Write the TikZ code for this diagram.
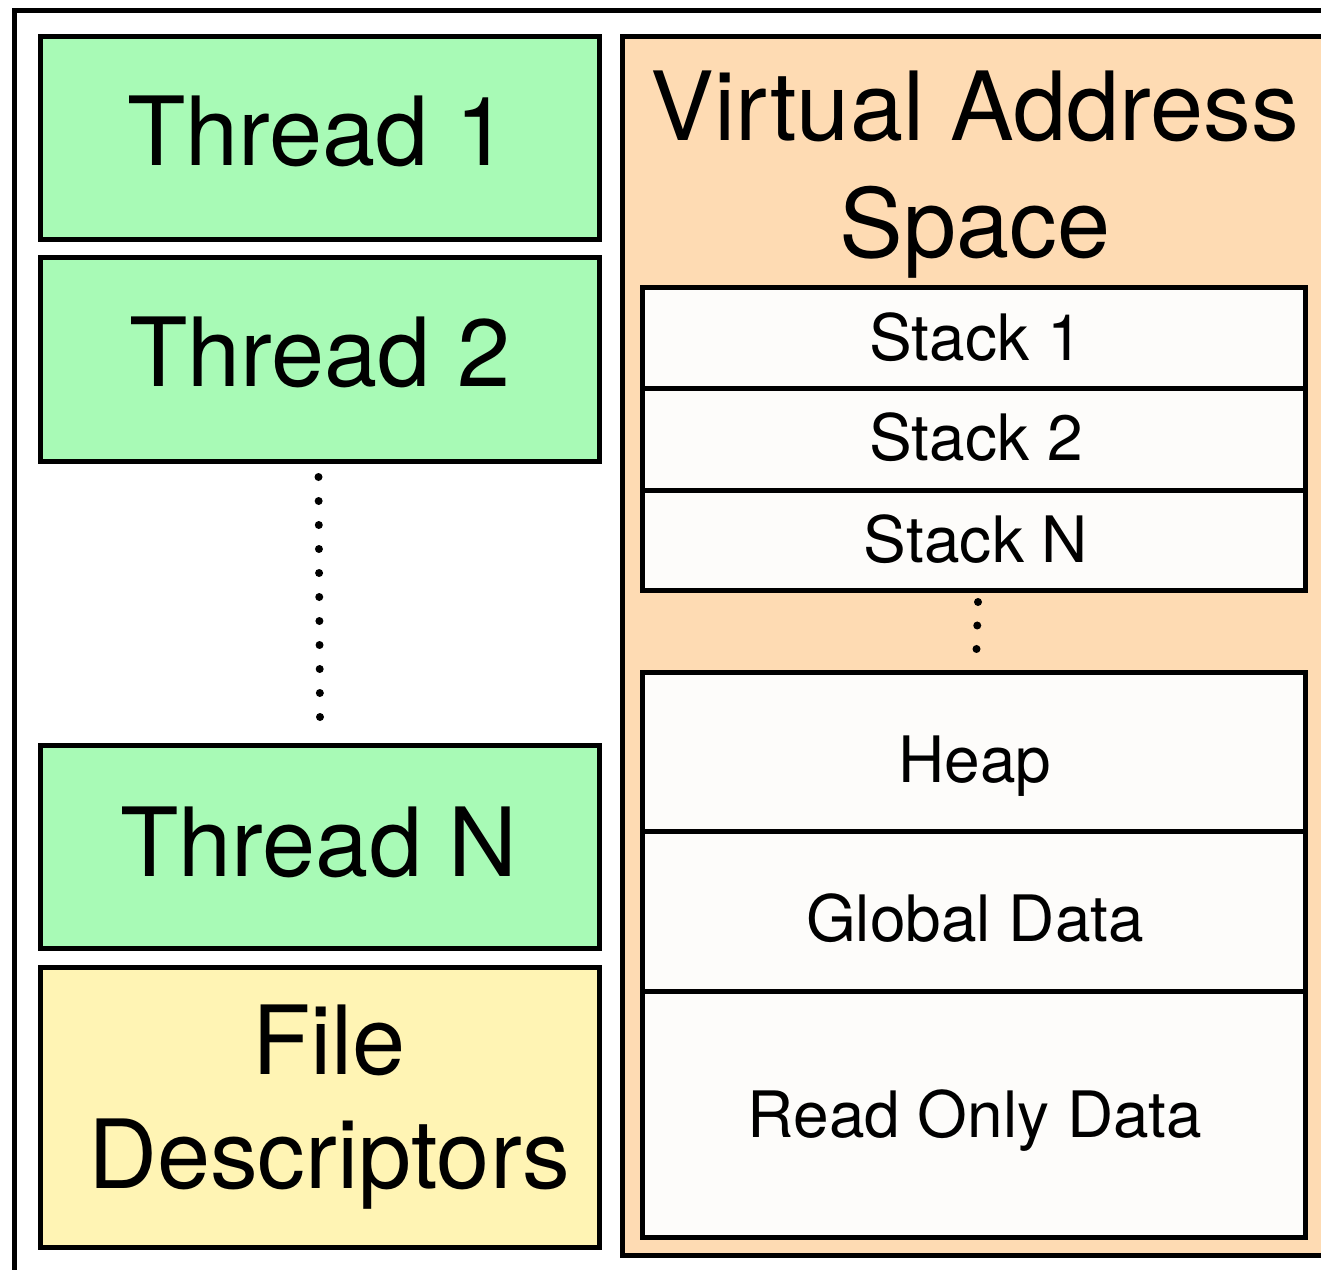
\documentclass[tikz,border=0pt]{standalone}
\usepackage{fontspec}
\setmainfont{TeX Gyre Heros}
\definecolor{threadgreen}{RGB}{168,250,182}
\definecolor{fileyellow}{RGB}{255,244,180}
\definecolor{vasorange}{RGB}{254,219,179}
\definecolor{segwhite}{RGB}{253,252,250}
\tikzset{
  panel/.style={draw=black, line width=5pt, inner sep=0pt, rectangle},
  threadbox/.style={panel, fill=threadgreen, minimum width=559pt},
  filebox/.style={panel, fill=fileyellow, minimum width=559pt},
  segbox/.style={panel, fill=segwhite, minimum width=663.5pt},
  bigtext/.style={anchor=base, inner sep=0pt, font=\fontsize{95.5}{117}\selectfont, align=center},
  segtext/.style={anchor=base, inner sep=0pt, font=\fontsize{64}{76}\selectfont},
  ellipsis/.style={line width=8pt, line cap=round, dash pattern=on 0pt off #1}
}
\begin{document}
\begin{tikzpicture}[x=1pt, y=-1pt]
\useasboundingbox (0,0) rectangle (1321,1269);
\fill[white] (0,0) rectangle (1321,1269);

% process frame (runs off the right and bottom edges)
\draw[line width=5pt] (14.5,10) rectangle (1400,1350);

% threads and file descriptors
\node[threadbox, minimum height=203pt] (thread1) at (320,137.5) {};
\node[threadbox, minimum height=203.5pt] (thread2) at (320,359.25) {};
\node[threadbox, minimum height=203pt] (threadN) at (320,847) {};
\node[filebox, minimum height=280pt] (files) at (320,1107.5) {};

\node[bigtext] (thread1txt) at (318,165) {Thread 1};
\node[bigtext] (thread2txt) at (320,386) {Thread 2};
\node[bigtext] (threadNtxt) at (319,876) {Thread N};
\node[bigtext] (filestxt1) at (329,1074) {File};
\node[bigtext] (filestxt2) at (329,1188) {Descriptors};

\coordinate (tdotsA) at (318.5,477);
\coordinate (tdotsB) at (320,717);
\draw[ellipsis=24pt] (tdotsA) -- (tdotsB);

% virtual address space
\node[panel, fill=vasorange, minimum width=717.5pt, minimum height=1219.5pt] (vas) at (981.25,645.75) {};
\node[bigtext] (vastxt1) at (975,140) {Virtual Address};
\node[bigtext] (vastxt2) at (975,257) {Space};

\node[segbox, minimum height=101pt] (stack1) at (973.75,338) {};
\node[segbox, minimum height=102pt] (stack2) at (973.75,439.5) {};
\node[segbox, minimum height=100pt] (stackN) at (973.75,540.5) {};
\node[segtext] (stack1txt) at (976,360) {Stack 1};
\node[segtext] (stack2txt) at (976,460) {Stack 2};
\node[segtext] (stackNtxt) at (976,562) {Stack N};

\coordinate (sdotsA) at (978,602);
\coordinate (sdotsB) at (976.5,649);
\draw[ellipsis=23.5pt] (sdotsA) -- (sdotsB);

\node[segbox, minimum height=159pt] (heap) at (973.75,752) {};
\node[segbox, minimum height=160pt] (global) at (973.75,911.5) {};
\node[segbox, minimum height=246pt] (rodata) at (973.75,1114.5) {};
\node[segtext] (heaptxt) at (975,782) {Heap};
\node[segtext] (globaltxt) at (975,941) {Global Data};
\node[segtext] (rodatatxt) at (975,1137) {Read Only Data};
\end{tikzpicture}
\end{document}
